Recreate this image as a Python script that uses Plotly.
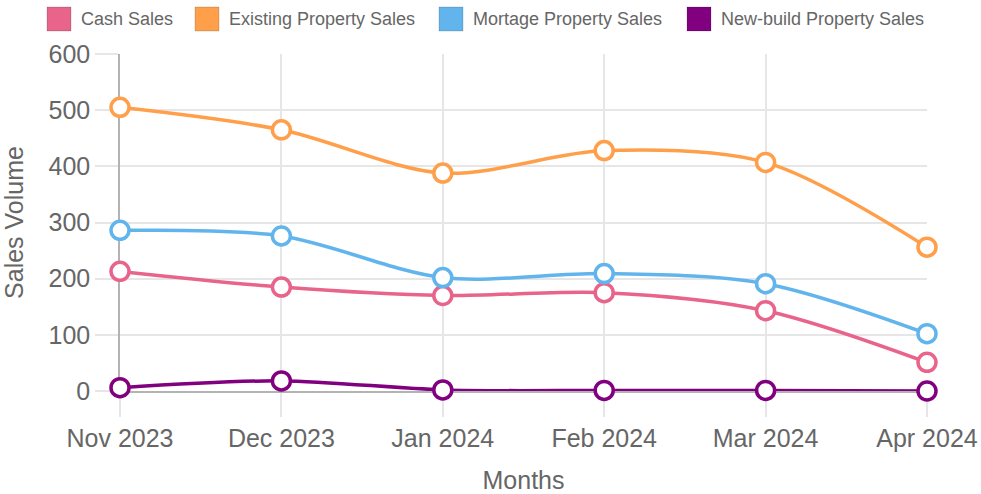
import plotly.graph_objects as go

months = ["Nov 2023", "Dec 2023", "Jan 2024", "Feb 2024", "Mar 2024", "Apr 2024"]
cash_sales = [213, 185, 170, 175, 143, 51]
existing_sales = [505, 465, 388, 428, 407, 256]
mortgage_sales = [286, 276, 202, 209, 191, 102]
newbuild_sales = [6, 18, 2, 1, 1, 0]

series = [
    ("Cash Sales", cash_sales, "#e8648a"),
    ("Existing Property Sales", existing_sales, "#ff9f4a"),
    ("Mortage Property Sales", mortgage_sales, "#62b5ec"),
    ("New-build Property Sales", newbuild_sales, "#800080"),
]

W, H = 981, 494
L, R, T, B = 120, 54, 54, 103
PW, PH = W - L - R, H - T - B
FONT = "Liberation Sans, Arial, sans-serif"
GRID = "#e6e6e6"

# legend box left edges (px) - chart.js style box legend across the top
LEG_X = [47, 195, 439, 687]


def px_x(p):
    return (p - L) / PW


def px_y(p):
    return (H - B - p) / PH


fig = go.Figure()
shapes, annos = [], []
for (name, vals, col), lx in zip(series, LEG_X):
    fig.add_trace(go.Scatter(
        x=months, y=vals, name=name, mode="lines+markers",
        line=dict(color=col, width=3.5, shape="spline", smoothing=0.9),
        marker=dict(size=18, color="white", line=dict(color=col, width=3.5)),
        cliponaxis=False, showlegend=False))
    shapes.append(dict(type="rect", xref="paper", yref="paper",
                       x0=px_x(lx), x1=px_x(lx + 24), y0=px_y(31), y1=px_y(7),
                       fillcolor=col, line=dict(color="rgba(0,0,0,0.15)", width=1),
                       layer="above"))
    annos.append(dict(text=name, xref="paper", yref="paper", showarrow=False,
                      x=px_x(lx + 32), y=px_y(19), xanchor="left", yanchor="middle",
                      font=dict(size=18, color="#666", family=FONT)))

fig.update_layout(
    width=W, height=H,
    margin=dict(l=L, r=R, t=T, b=B),
    paper_bgcolor="white", plot_bgcolor="white",
    font=dict(family=FONT, color="#666", size=25),
    showlegend=False,
    shapes=shapes, annotations=annos,
)
fig.update_xaxes(
    type="category", range=[0, 5], showgrid=True, gridcolor=GRID, gridwidth=1.5,
    ticks="outside", ticklen=24, tickcolor=GRID, tickwidth=1.5,
    showline=True, linecolor="#b3b3b3", linewidth=1.5, zeroline=False,
    layer="below traces", automargin=False, tickfont=dict(size=25, color="#666"),
    title=dict(text="Months", font=dict(size=25, color="#666"), standoff=22),
)
fig.update_yaxes(
    range=[0, 600], dtick=100, showgrid=True, gridcolor=GRID, gridwidth=1.5,
    ticks="outside", ticklen=23, tickcolor=GRID, tickwidth=1.5,
    showline=True, linecolor="#b3b3b3", linewidth=1.5, zeroline=False,
    layer="below traces", automargin=False, tickfont=dict(size=25, color="#666"),
    title=dict(text="Sales Volume", font=dict(size=25, color="#666"), standoff=21),
)

fig.write_html("out.html", config={"displayModeBar": False},
               post_script="document.body.style.margin='0';")
